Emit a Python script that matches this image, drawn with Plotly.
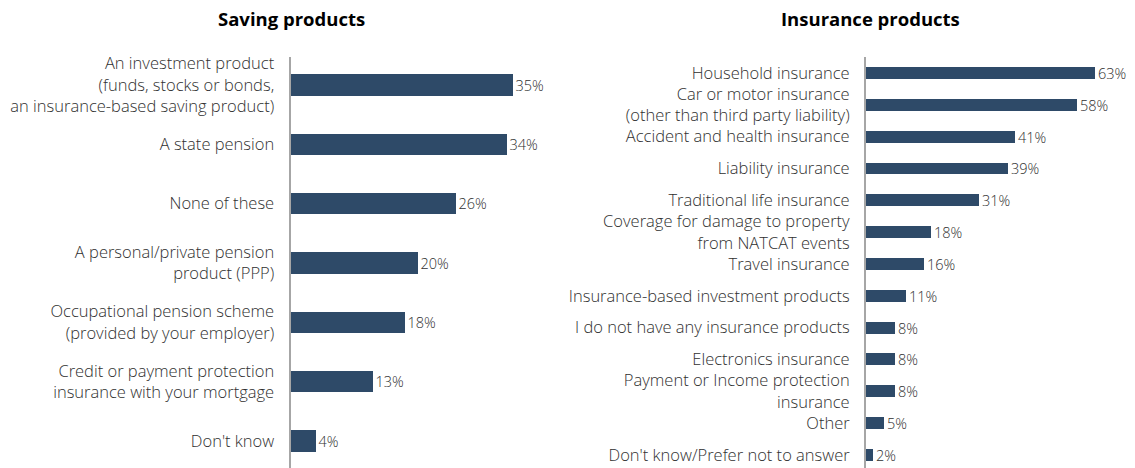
import plotly.graph_objects as go

saving_labels = [
    "An investment product<br>(funds, stocks or bonds,<br>an insurance-based saving product)",
    "A state pension",
    "None of these",
    "A personal/private pension<br>product (PPP)",
    "Occupational pension scheme<br>(provided by your employer)",
    "Credit or payment protection<br>insurance with your mortgage",
    "Don't know",
]
saving_values = [35, 34, 26, 20, 18, 13, 4]

insurance_labels = [
    "Household insurance",
    "Car or motor insurance<br>(other than third party liability)",
    "Accident and health insurance",
    "Liability insurance",
    "Traditional life insurance",
    "Coverage for damage to property<br>from NATCAT events",
    "Travel insurance",
    "Insurance-based investment products",
    "I do not have any insurance products",
    "Electronics insurance",
    "Payment or Income protection<br>insurance",
    "Other",
    "Don't know/Prefer not to answer",
]
insurance_values = [63, 58, 41, 39, 31, 18, 16, 11, 8, 8, 8, 5, 2]

BAR = "#2E4A68"
TXT = "#303030"
FONT = "Open Sans"
LBL = 16.5

fig = go.Figure()
fig.add_trace(go.Bar(
    x=saving_values, y=list(range(len(saving_values))), orientation="h",
    marker=dict(color=BAR, line=dict(width=0)), width=0.355,
    text=[f"{v}%" for v in saving_values], textposition="outside", constraintext="none",
    textfont=dict(size=14.5, color=TXT, family=FONT, weight=300), cliponaxis=False,
    xaxis="x", yaxis="y", hoverinfo="skip",
))
fig.add_trace(go.Bar(
    x=insurance_values, y=list(range(len(insurance_values))), orientation="h",
    marker=dict(color=BAR, line=dict(width=0)), width=0.377,
    text=[f"{v}%" for v in insurance_values], textposition="outside", constraintext="none",
    textfont=dict(size=14.5, color=TXT, family=FONT, weight=300), cliponaxis=False,
    xaxis="x2", yaxis="y2", hoverinfo="skip",
))

W, H = 1135, 468
axcol = "#A6A6A6"
fig.update_layout(
    width=W, height=H,
    margin=dict(l=0, r=0, t=57, b=0),
    paper_bgcolor="white", plot_bgcolor="white",
    showlegend=False, bargap=0,
    font=dict(family=FONT, size=LBL, color=TXT),
    xaxis=dict(domain=[290.5 / W, 560 / W], range=[0, 42.5], visible=False, fixedrange=True),
    yaxis=dict(anchor="x", range=[6.455, -0.472], tickvals=list(range(len(saving_labels))),
               ticktext=saving_labels, showline=True, linecolor=axcol, linewidth=2,
               showgrid=False, zeroline=False, ticks="outside", ticklen=11, tickcolor="rgba(0,0,0,0)",
               tickfont=dict(size=LBL, color=TXT, family=FONT, weight=300), automargin=False,
               fixedrange=True),
    xaxis2=dict(domain=[866 / W, 1.0], range=[0, 74.0], visible=False, fixedrange=True),
    yaxis2=dict(anchor="x2", range=[12.41, -0.503], tickvals=list(range(len(insurance_labels))),
                ticktext=insurance_labels, showline=True, linecolor=axcol, linewidth=2,
                showgrid=False, zeroline=False, ticks="outside", ticklen=11, tickcolor="rgba(0,0,0,0)",
                tickfont=dict(size=LBL, color=TXT, family=FONT, weight=300), automargin=False,
                fixedrange=True),
    annotations=[
        dict(text="<b>Saving products</b>", x=291 / W, y=1 + (57 - 18) / (H - 57),
             xref="paper", yref="paper", xanchor="center", yanchor="middle", showarrow=False,
             font=dict(size=18.5, color="#000000", family=FONT)),
        dict(text="<b>Insurance products</b>", x=871 / W, y=1 + (57 - 18) / (H - 57),
             xref="paper", yref="paper", xanchor="center", yanchor="middle", showarrow=False,
             font=dict(size=18.5, color="#000000", family=FONT)),
    ],
)

fig.write_html("out.html", config={"displayModeBar": False},
               post_script="document.body.style.margin='0';document.body.style.overflow='hidden';")
